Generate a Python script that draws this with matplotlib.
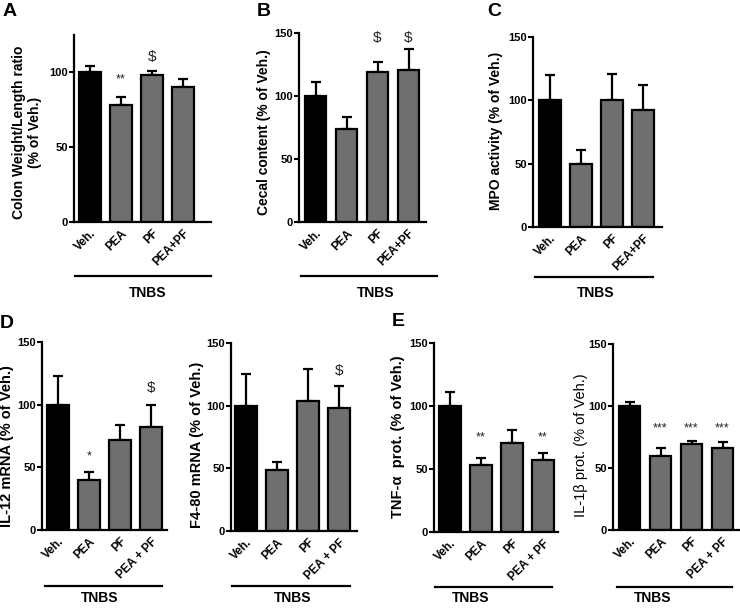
import matplotlib
matplotlib.use("Agg")
import matplotlib.pyplot as plt

plt.rcParams['font.family'] = ['Liberation Sans', 'DejaVu Sans']

# ---- data ----
groups_a = ["Veh.", "PEA", "PF", "PEA+PF"]
groups_d = ["Veh.", "PEA", "PF", "PEA + PF"]

colon_mean = [100, 78, 98, 90]
colon_err = [4, 5, 3, 5]
colon_ann = ["", "**", "$", ""]
colon_ann_y = [0, 95, 110, 0]

cecal_mean = [100, 74, 119, 121]
cecal_err = [11, 9, 8, 16]
cecal_ann = ["", "", "$", "$"]
cecal_ann_y = [0, 0, 146, 146]

mpo_mean = [100, 50, 100, 92]
mpo_err = [20, 11, 21, 20]

il12_mean = [100, 40, 72, 82]
il12_err = [23, 6, 12, 18]
il12_ann = ["", "*", "", "$"]
il12_ann_y = [0, 59, 0, 113]

f480_mean = [100, 49, 104, 98]
f480_err = [25, 6, 25, 18]
f480_ann = ["", "", "", "$"]
f480_ann_y = [0, 0, 0, 128]

tnf_mean = [100, 53, 71, 57]
tnf_err = [11, 6, 10, 6]
tnf_ann = ["", "**", "", "**"]
tnf_ann_y = [0, 75, 0, 75]

il1b_mean = [100, 60, 69, 66]
il1b_err = [3, 6, 3, 5]
il1b_ann = ["", "***", "***", "***"]
il1b_ann_y = [0, 82, 82, 82]

W, H = 740, 608
fig = plt.figure(figsize=(W / 100, H / 100), dpi=100)

SP = 31.0  # px per bar slot


def add_panel(left, right, bottom, top, c0, ymax, ticks, means, errs, labels,
              ylabel, ylab_xy, ann=None, ann_y=None, ylabel_weight='bold',
              ylabel_size=10):
    ax = fig.add_axes([left / W, 1 - bottom / H, (right - left) / W, (bottom - top) / H])
    x = list(range(len(means)))
    colors = ['black'] + ['#6f6f6f'] * (len(means) - 1)
    ax.bar(x, means, width=0.7, color=colors, edgecolor='black', linewidth=1.6, zorder=2)
    ax.errorbar(x, means, yerr=[[0] * len(errs), errs], fmt='none', ecolor='black',
                elinewidth=1.6, capsize=3.5, capthick=1.6, zorder=1)
    ax.set_xlim((left - c0) / SP, (right - c0) / SP)
    ax.set_ylim(0, ymax)
    ax.set_yticks(ticks)
    ax.set_yticklabels([str(t) for t in ticks], fontsize=8, fontweight='bold')
    ax.set_xticks(x)
    ax.set_xticklabels(labels, rotation=45, ha='right', rotation_mode='anchor',
                       fontsize=8.5, fontweight='bold')
    ax.tick_params(axis='x', length=0, pad=4)
    ax.tick_params(axis='y', length=3.5, width=1.5, pad=1)
    for s in ['top', 'right']:
        ax.spines[s].set_visible(False)
    for s in ['left', 'bottom']:
        ax.spines[s].set_linewidth(1.6)
    ax.spines['bottom'].set_zorder(3)
    if ann:
        for xi, (t, yv) in enumerate(zip(ann, ann_y)):
            if t:
                fs = 11 if t == "$" else 9
                ax.text(xi, yv, t, ha='center', va='center', fontsize=fs, color='#222222')
    fig.text(ylab_xy[0] / W, 1 - ylab_xy[1] / H, ylabel, rotation=90, ha='center',
             va='center', fontsize=ylabel_size, fontweight=ylabel_weight, linespacing=1.1)
    return ax


def tnbs(x0, x1, y, tx, ty):
    fig.add_artist(plt.Line2D([x0 / W, x1 / W], [1 - y / H, 1 - y / H],
                              color='black', linewidth=1.6))
    fig.text(tx / W, 1 - ty / H, "TNBS", ha='center', va='center', fontsize=10,
             fontweight='bold')


# A
add_panel(74, 211, 222, 34.5, 90, 125, [0, 50, 100], colon_mean, colon_err, groups_a,
          "Colon Weight/Length ratio\n(% of Veh.)", (27, 132), colon_ann, colon_ann_y)
tnbs(75, 211, 276, 148, 293)
# B
add_panel(299, 426, 222, 33, 315.5, 150, [0, 50, 100, 150], cecal_mean, cecal_err, groups_a,
          "Cecal content (% of Veh.)", (264, 132), cecal_ann, cecal_ann_y)
tnbs(301, 437, 276, 376, 293)
# C
add_panel(533, 662, 227, 37, 550, 150, [0, 50, 100, 150], mpo_mean, mpo_err, groups_a,
          "MPO activity (% of Veh.)", (496, 131))
tnbs(535, 653, 277, 596, 293)
# D left
add_panel(42, 167, 530, 342, 58, 150, [0, 50, 100, 150], il12_mean, il12_err, groups_d,
          "IL-12 mRNA (% of Veh.)", (7, 446), il12_ann, il12_ann_y, ylabel_size=10.5)
tnbs(45, 162, 586, 100, 598)
# D right
add_panel(231, 357, 531, 343, 246, 150, [0, 50, 100, 150], f480_mean, f480_err, groups_d,
          "F4-80 mRNA (% of Veh.)", (197, 445), f480_ann, f480_ann_y, ylabel_size=10.5)
tnbs(232, 350, 586, 293, 598)
# E left
add_panel(434, 558, 532, 343, 450, 150, [0, 50, 100, 150], tnf_mean, tnf_err, groups_d,
          "TNF-α  prot. (% of Veh.)", (398, 437), tnf_ann, tnf_ann_y, ylabel_size=10.5)
tnbs(435, 552, 587, 471, 598)
# E right
add_panel(613, 740, 530, 344, 629.5, 150, [0, 50, 100, 150], il1b_mean, il1b_err, groups_d,
          "IL-1β prot. (% of Veh.)", (581, 445), il1b_ann, il1b_ann_y,
          ylabel_weight='normal', ylabel_size=10.5)
tnbs(617, 732, 587, 653, 598)

# panel letters
for letter, (px, py) in {"A": (3, 11), "B": (257, 11), "C": (487, 11),
                         "D": (0, 323), "E": (392, 322)}.items():
    fig.text(px / W, 1 - py / H, letter, ha='left', va='center', fontsize=14,
             fontweight='bold')

fig.savefig("out.png", dpi=100)
